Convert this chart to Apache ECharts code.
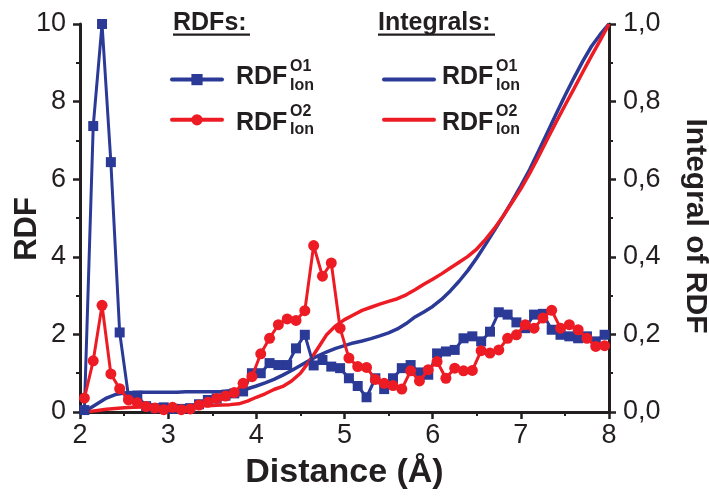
<!DOCTYPE html>
<html><head><meta charset="utf-8">
<script src="https://cdn.jsdelivr.net/npm/echarts@6/dist/echarts.min.js"></script>
<style>html,body{margin:0;padding:0;background:#fff}#c{width:709px;height:499px}</style>
</head><body><div id="c"></div>
<script>
// RDF bins (Å)
const distance = [2.05,2.15,2.25,2.35,2.45,2.55,2.65,2.75,2.85,2.95,
  3.05,3.15,3.25,3.35,3.45,3.55,3.65,3.75,3.85,3.95,
  4.05,4.15,4.25,4.35,4.45,4.55,4.65,4.75,4.85,4.95,
  5.05,5.15,5.25,5.35,5.45,5.55,5.65,5.75,5.85,5.95,
  6.05,6.15,6.25,6.35,6.45,6.55,6.65,6.75,6.85,6.95,
  7.05,7.15,7.25,7.35,7.45,7.55,7.65,7.75,7.85,7.95];
const rdfO1 = [0.05,7.37,10.0,6.44,2.05,0.40,0.42,0.15,0.10,0.12,
  0.08,0.08,0.10,0.20,0.31,0.35,0.42,0.48,0.53,1.00,
  1.00,1.26,1.21,1.21,1.64,1.99,1.20,1.34,1.17,1.13,
  0.87,0.67,0.38,0.87,0.59,0.87,1.13,1.21,1.02,0.96,
  1.51,1.56,1.60,1.90,1.95,1.82,2.07,2.57,2.51,2.31,
  2.16,2.51,2.53,2.12,1.99,1.95,1.90,1.95,1.82,1.99];
const rdfO2 = [0.36,1.32,2.75,0.98,0.60,0.31,0.24,0.14,0.10,0.06,
  0.12,0.06,0.08,0.18,0.25,0.35,0.41,0.50,0.74,0.91,
  1.50,1.90,2.25,2.40,2.36,2.61,4.29,3.50,3.84,2.16,
  1.39,1.17,1.15,0.84,0.74,0.68,0.59,1.06,0.80,1.09,
  1.30,0.87,1.13,1.06,1.07,1.58,1.52,1.60,1.90,1.99,
  2.25,2.16,2.42,2.62,2.16,2.25,2.12,1.90,1.69,1.71];
// Integral positions (bin edges, Å)
const intDistance = [2.0,2.1,2.2,2.3,2.4,2.5,2.6,2.7,2.8,2.9,
  3.0,3.1,3.2,3.3,3.4,3.5,3.6,3.7,3.8,3.9,
  4.0,4.1,4.2,4.3,4.4,4.5,4.6,4.7,4.8,4.9,
  5.0,5.1,5.2,5.3,5.4,5.5,5.6,5.7,5.8,5.9,
  6.0,6.1,6.2,6.3,6.4,6.5,6.6,6.7,6.8,6.9,
  7.0,7.1,7.2,7.3,7.4,7.5,7.6,7.7,7.8,7.9,8.0];
const intO1 = [0,0.008,0.022,0.036,0.045,0.049,0.050,0.051,0.051,0.051,
  0.051,0.051,0.052,0.052,0.052,0.052,0.053,0.055,0.057,0.060,
  0.067,0.075,0.084,0.095,0.107,0.120,0.133,0.145,0.155,0.164,
  0.171,0.178,0.183,0.189,0.196,0.204,0.214,0.228,0.245,0.258,
  0.272,0.290,0.312,0.337,0.365,0.397,0.432,0.468,0.505,0.543,
  0.583,0.625,0.672,0.720,0.768,0.815,0.860,0.903,0.942,0.973,1.0];
const intO2 = [0,0.001,0.004,0.007,0.009,0.011,0.012,0.013,0.013,0.014,
  0.014,0.014,0.015,0.015,0.016,0.017,0.018,0.019,0.021,0.028,
  0.038,0.047,0.058,0.066,0.080,0.100,0.130,0.165,0.200,0.222,
  0.238,0.250,0.262,0.270,0.278,0.285,0.292,0.302,0.315,0.329,
  0.342,0.356,0.371,0.386,0.401,0.420,0.445,0.473,0.505,0.540,
  0.575,0.615,0.658,0.703,0.747,0.790,0.832,0.875,0.917,0.958,1.0];
const xTicks = {min:2, max:8, interval:1};
const yLeftTicks = {min:0, max:10, interval:2};
const yRightTicks = {min:0, max:1, interval:0.2};
const legendHeaders = ['RDFs:', 'Integrals:'];
const legendMain = 'RDF';
const legendSup = ['O1', 'O2'];
const legendSub = 'Ion';
const xTitle = 'Distance (Å)';
const yLeftTitle = 'RDF';
const yRightTitle = 'Integral of RDF';

const BLUE = '#2B3A97', RED = '#ED1C24', INK = '#231F20';
const FONT = '"Liberation Sans", Arial, Helvetica, sans-serif';
const zip = (xs, ys) => xs.map((x, i) => [x, ys[i]]);

const axisCommon = {
  axisLine: {show: true, onZero: false, lineStyle: {color: INK, width: 3}},
  axisTick: {show: true, inside: false, length: 7, lineStyle: {color: INK, width: 2.5}},
  minorTick: {show: true, splitNumber: 2, length: 4, lineStyle: {color: INK, width: 2}},
  splitLine: {show: false},
  axisLabel: {fontSize: 27, fontFamily: FONT, color: INK}
};
const nameStyle = {fontSize: 34, fontWeight: 'bold', fontFamily: FONT, color: INK};

// legend text + axis-title graphics
const graphics = [];
const headerX = [173, 378], headerW = [77, 117];
legendHeaders.forEach((t, i) => {
  graphics.push({type: 'text', style: {x: headerX[i], y: 23.5, text: t, font: 'bold 25px ' + FONT, fill: INK, verticalAlign: 'middle'}});
  graphics.push({type: 'rect', shape: {x: headerX[i], y: 33.5, width: headerW[i], height: 2.2}, style: {fill: INK}});
});
const textX = [236, 442];
const rowMain = [77.5, 122.7], rowSup = [66.7, 112], rowSub = [85.3, 130];
textX.forEach(x0 => {
  for (let r = 0; r < 2; r++) {
    graphics.push({type: 'text', style: {x: x0, y: rowMain[r], text: legendMain, font: 'bold 25px ' + FONT, fill: INK, verticalAlign: 'middle'}});
    graphics.push({type: 'text', style: {x: x0 + 54, y: rowSup[r], text: legendSup[r], font: 'bold 16px ' + FONT, fill: INK, verticalAlign: 'middle'}});
    graphics.push({type: 'text', style: {x: x0 + 54, y: rowSub[r], text: legendSub, font: 'bold 16px ' + FONT, fill: INK, verticalAlign: 'middle'}});
  }
});
graphics.push({type: 'text', x: 27, y: 229, rotation: Math.PI / 2,
  style: {text: yLeftTitle, font: 'bold 31px ' + FONT, fill: INK, align: 'center', verticalAlign: 'middle'}});
graphics.push({type: 'text', x: 695, y: 226, rotation: -Math.PI / 2,
  style: {text: yRightTitle, font: 'bold 30px ' + FONT, fill: INK, align: 'center', verticalAlign: 'middle'}});

const legendCommon = {
  orient: 'vertical', top: 74, itemWidth: 50, itemHeight: 14, itemGap: 29, padding: 0,
  formatter: () => ' ', textStyle: {fontSize: 8}, selectedMode: false,
  lineStyle: {width: 4, cap: 'round'}
};

const chart = echarts.init(document.getElementById('c'));
chart.setOption({
  animation: false,
  backgroundColor: '#fff',
  grid: {left: 80, right: 100, top: 24, bottom: 87, containLabel: false, outerBoundsMode: 'none'},
  legend: [
    Object.assign({left: 170, data: ['RDF O1', 'RDF O2']}, legendCommon),
    Object.assign({left: 382, data: ['Int O1', 'Int O2'], itemStyle: {opacity: 0}}, legendCommon)
  ],
  graphic: graphics,
  xAxis: Object.assign({}, axisCommon, {
    type: 'value', min: xTicks.min, max: xTicks.max, interval: xTicks.interval,
    axisLabel: Object.assign({}, axisCommon.axisLabel, {margin: 10}),
    name: xTitle, nameLocation: 'middle', nameGap: 44, nameMoveOverlap: false, nameTextStyle: nameStyle
  }),
  yAxis: [
    Object.assign({}, axisCommon, {
      type: 'value', position: 'left', min: yLeftTicks.min, max: yLeftTicks.max, interval: yLeftTicks.interval,
      axisLabel: Object.assign({}, axisCommon.axisLabel, {margin: 14})
    }),
    Object.assign({}, axisCommon, {
      type: 'value', position: 'right', min: yRightTicks.min, max: yRightTicks.max, interval: yRightTicks.interval,
      axisLabel: Object.assign({}, axisCommon.axisLabel, {margin: 14, formatter: v => v.toFixed(1).replace('.', ',')})
    })
  ],
  series: [
    {name: 'Int O1', type: 'line', yAxisIndex: 1, data: zip(intDistance, intO1), symbol: 'none', smooth: false,
      lineStyle: {color: BLUE, width: 3.5}, itemStyle: {color: BLUE}, z: 2},
    {name: 'Int O2', type: 'line', yAxisIndex: 1, data: zip(intDistance, intO2), symbol: 'none', smooth: false,
      lineStyle: {color: RED, width: 3.5}, itemStyle: {color: RED}, z: 2},
    {name: 'RDF O1', type: 'line', yAxisIndex: 0, data: zip(distance, rdfO1), symbol: 'rect', symbolSize: 10,
      lineStyle: {color: BLUE, width: 3}, itemStyle: {color: BLUE, borderWidth: 0}, z: 3},
    {name: 'RDF O2', type: 'line', yAxisIndex: 0, data: zip(distance, rdfO2), symbol: 'circle', symbolSize: 11,
      lineStyle: {color: RED, width: 3}, itemStyle: {color: RED, borderWidth: 0}, z: 4}
  ]
});
</script>
</body></html>
